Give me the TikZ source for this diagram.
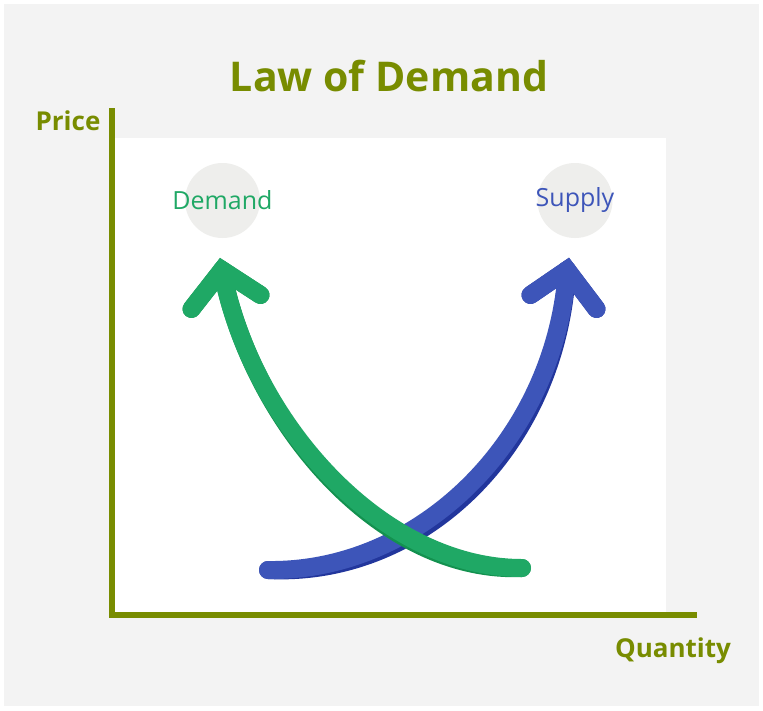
\documentclass[tikz,border=0pt]{standalone}
\usepackage{fontspec}
\setmainfont{Open Sans}
\definecolor{bgc}{HTML}{F3F3F3}
\definecolor{olive}{HTML}{788C00}
\definecolor{gmain}{HTML}{1FA865}
\definecolor{gdark}{HTML}{13914F}
\definecolor{bmain}{HTML}{3D55B9}
\definecolor{bdark}{HTML}{22369C}
\definecolor{circ}{HTML}{EEEEEC}
\tikzset{
  axis/.style={draw=olive, line width=6pt},
  shaft/.style={line width=18pt, line cap=round},
  headline/.style={line width=18pt, line cap=round, line join=miter},
  bubble/.style={circle, fill=circ, minimum size=75pt, inner sep=0pt},
  lbl/.style={font=\fontsize{25}{29}\selectfont},
  axlbl/.style={font=\bfseries\fontsize{26}{30}\selectfont, text=olive},
}
\begin{document}
\begin{tikzpicture}[x=1pt,y=-1pt]
\useasboundingbox (0,0) rectangle (763,710);
\fill[white] (0,0) rectangle (763,710);
\fill[bgc] (4,4) rectangle (759,706);
\fill[white] (113,138) rectangle (666,613);

% title and axis labels
\node[font=\bfseries\fontsize{41}{47}\selectfont, text=olive] (title) at (389,76) {Law of Demand};
\node[axlbl] (price) at (68,121) {Price};
\node[axlbl] (qty) at (673,651) {Quantity};

% axes
\coordinate (atop) at (111.5,108);
\coordinate (aorig) at (111.5,614.5);
\coordinate (aright) at (697,614.5);
\draw[axis] (atop) -- (aorig.center) -- (aright);

% bubbles
\node[bubble] (dem) at (222.5,200.5) {};
\node[bubble] (sup) at (575,200.5) {};
\node[lbl, text=gmain] at (dem) {Demand};
\node[lbl, text=bmain] at (sup) {Supply};

% supply arrow (blue)
\coordinate (bs) at (268,570);
\coordinate (bv) at (567,270);
\coordinate (bl) at (530.5,295);
\coordinate (br) at (596.5,309);
\begin{scope}[shift={(2.5,6)}]
\draw[shaft, bdark] (bs) .. controls (420,572) and (555,440) .. (bv);
\draw[headline, bdark] (bl) -- (bv) -- (br);
\end{scope}
\draw[shaft, bmain] (bs) .. controls (420,572) and (555,440) .. (bv);
\draw[headline, bmain] (bl) -- (bv) -- (br);

% demand arrow (green)
\coordinate (gs) at (522,568);
\coordinate (gv) at (222,270);
\coordinate (gl) at (191.5,309);
\coordinate (gr) at (260.5,295);
\begin{scope}[shift={(2.5,6)}]
\draw[shaft, gdark] (gs) .. controls (380,568) and (250,420) .. (gv);
\draw[headline, gdark] (gl) -- (gv) -- (gr);
\end{scope}
\draw[shaft, gmain] (gs) .. controls (380,568) and (250,420) .. (gv);
\draw[headline, gmain] (gl) -- (gv) -- (gr);
\end{tikzpicture}
\end{document}
